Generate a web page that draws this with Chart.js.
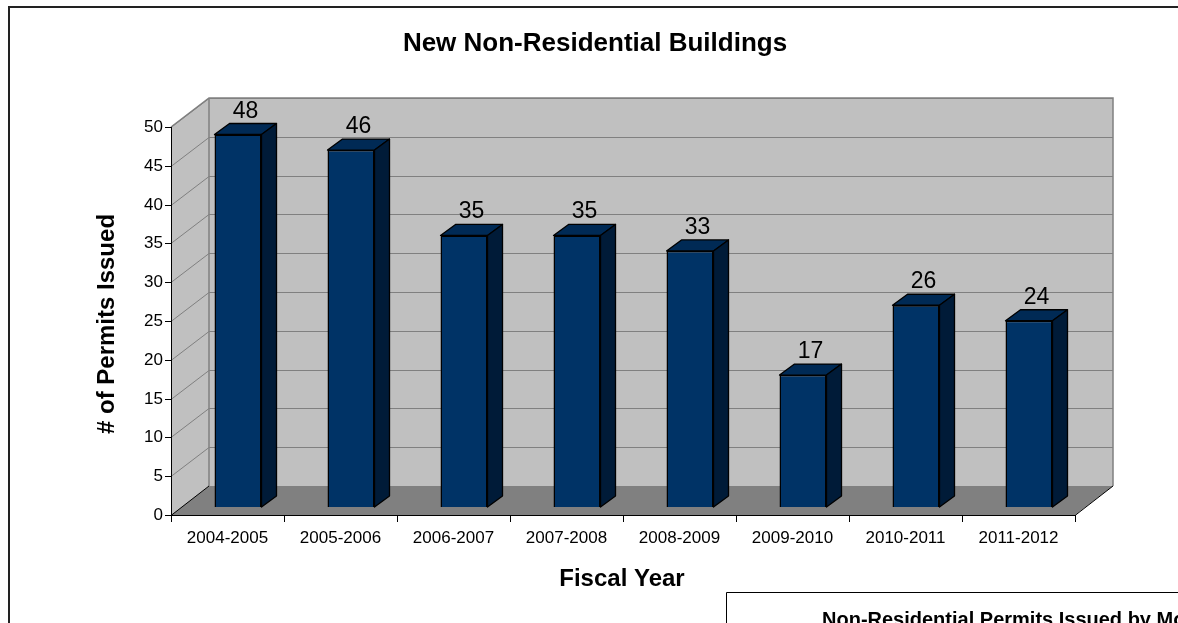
<!DOCTYPE html>
<html>
<head>
<meta charset="utf-8">
<title>New Non-Residential Buildings</title>
<script src="https://cdn.jsdelivr.net/npm/chart.js@4.4.1/dist/chart.umd.min.js"></script>
<style>
  html, body { margin: 0; padding: 0; background: #fff; }
  #wrap { width: 1178px; height: 623px; overflow: hidden; }
</style>
</head>
<body>
<div id="wrap"><canvas id="permits" width="1178" height="623"></canvas></div>
<script>
const fiscalYears = ['2004-2005', '2005-2006', '2006-2007', '2007-2008', '2008-2009', '2009-2010', '2010-2011', '2011-2012'];
const permitsIssued = [48, 46, 35, 35, 33, 17, 26, 24];
const yTicks = [0, 5, 10, 15, 20, 25, 30, 35, 40, 45, 50];

const chartTitle = 'New Non-Residential Buildings';
const yAxisTitle = '# of Permits Issued';
const xAxisTitle = 'Fiscal Year';
const nextChartTitle = 'Non-Residential Permits Issued by Month';

// offset of the back wall from the front plane
const DEPTH_X = 38, DEPTH_Y = -29;
// where the bar slab sits inside the box, and how deep it is
const BAR_SHIFT_X = 10.5, BAR_SHIFT_Y = -8;
const BAR_DEPTH_X = 15, BAR_DEPTH_Y = -11;

const FONT = "'Liberation Sans', Arial, sans-serif";

function poly(ctx, pts) {
    ctx.beginPath();
    ctx.moveTo(pts[0][0], pts[0][1]);
    for (let i = 1; i < pts.length; i++) ctx.lineTo(pts[i][0], pts[i][1]);
    ctx.closePath();
}

function line(ctx, x1, y1, x2, y2) {
    ctx.beginPath();
    ctx.moveTo(x1, y1);
    ctx.lineTo(x2, y2);
    ctx.stroke();
}

const box3d = {
    id: 'box3d',
    beforeDraw(chart) {
        const ctx = chart.ctx;
        ctx.save();
        ctx.fillStyle = '#fff';
        ctx.fillRect(0, 0, chart.width, chart.height);

        // outer chart frame (runs off the right and bottom)
        ctx.strokeStyle = '#222';
        ctx.lineWidth = 2;
        ctx.beginPath();
        ctx.moveTo(9, chart.height + 2);
        ctx.lineTo(9, 7);
        ctx.lineTo(chart.width + 2, 7);
        ctx.stroke();

        // the next chart's frame peeking in at the bottom
        ctx.strokeStyle = '#000';
        ctx.lineWidth = 1;
        ctx.beginPath();
        ctx.moveTo(726.5, chart.height + 2);
        ctx.lineTo(726.5, 592.5);
        ctx.lineTo(chart.width + 2, 592.5);
        ctx.stroke();
        ctx.fillStyle = '#000';
        ctx.font = 'bold 20px ' + FONT;
        ctx.textAlign = 'left';
        ctx.textBaseline = 'alphabetic';
        ctx.fillText(nextChartTitle, 822, 626);

        ctx.font = 'bold 26px ' + FONT;
        ctx.textAlign = 'center';
        ctx.textBaseline = 'middle';
        ctx.fillText(chartTitle, 595, 44);
        ctx.restore();
    },
    beforeDatasetsDraw(chart) {
        const { ctx, chartArea: a, scales: { x, y } } = chart;
        const L = a.left, R = a.right, T = a.top, B = a.bottom;
        ctx.save();

        // side wall, back wall, floor
        ctx.fillStyle = '#c0c0c0';
        poly(ctx, [[L, T], [L + DEPTH_X, T + DEPTH_Y], [L + DEPTH_X, B + DEPTH_Y], [L, B]]);
        ctx.fill();
        ctx.fillRect(L + DEPTH_X, T + DEPTH_Y, R - L, B - T);
        ctx.fillStyle = '#808080';
        poly(ctx, [[L, B], [R, B], [R + DEPTH_X, B + DEPTH_Y], [L + DEPTH_X, B + DEPTH_Y]]);
        ctx.fill();

        // gridlines wrap from the side wall onto the back wall
        ctx.strokeStyle = '#808080';
        ctx.lineWidth = 1;
        yTicks.forEach(v => {
            if (v === 0) return;
            const py = Math.round(y.getPixelForValue(v)) + 0.5;
            ctx.beginPath();
            ctx.moveTo(L, py);
            ctx.lineTo(L + DEPTH_X, py + DEPTH_Y);
            ctx.lineTo(R + DEPTH_X, py + DEPTH_Y);
            ctx.stroke();
        });

        // wall edges
        ctx.lineWidth = 1.5;
        ctx.beginPath();
        ctx.moveTo(L, T);
        ctx.lineTo(L + DEPTH_X, T + DEPTH_Y);
        ctx.lineTo(R + DEPTH_X, T + DEPTH_Y);
        ctx.lineTo(R + DEPTH_X, B + DEPTH_Y);
        ctx.stroke();
        line(ctx, L + DEPTH_X, T + DEPTH_Y, L + DEPTH_X, B + DEPTH_Y);

        // axes
        ctx.strokeStyle = '#000';
        ctx.lineWidth = 1;
        line(ctx, L + 0.5, T, L + 0.5, B);
        line(ctx, L, B + 0.5, R, B + 0.5);
        line(ctx, R, B + 0.5, R + DEPTH_X, B + DEPTH_Y);
        line(ctx, L, B + 0.5, L + DEPTH_X, B + DEPTH_Y);

        ctx.fillStyle = '#000';
        ctx.font = '17px ' + FONT;
        ctx.textAlign = 'right';
        ctx.textBaseline = 'middle';
        yTicks.forEach(v => {
            const py = Math.round(y.getPixelForValue(v)) + 0.5;
            line(ctx, L - 6, py, L, py);
            ctx.fillText(String(v), L - 8, py);
        });

        const half = (x.getPixelForValue(1) - x.getPixelForValue(0)) / 2;
        ctx.textAlign = 'center';
        fiscalYears.forEach((lab, i) => {
            const cx = x.getPixelForValue(i);
            ctx.fillText(lab, cx, 538);
            const tx = Math.round(cx - half) + 0.5;
            line(ctx, tx, B, tx, B + 7);
        });
        const lastTick = Math.round(x.getPixelForValue(fiscalYears.length - 1) + half) + 0.5;
        line(ctx, lastTick, B, lastTick, B + 7);

        // axis titles
        ctx.font = 'bold 24px ' + FONT;
        ctx.fillText(xAxisTitle, 622, 579);
        ctx.save();
        ctx.translate(107, 324);
        ctx.rotate(-Math.PI / 2);
        ctx.fillText(yAxisTitle, 0, 0);
        ctx.restore();

        ctx.restore();

        // bar fronts are drawn by Chart.js, pushed back into the box
        ctx.save();
        ctx.translate(BAR_SHIFT_X, BAR_SHIFT_Y);
    },
    afterDatasetsDraw(chart) {
        const ctx = chart.ctx;
        ctx.restore();
        ctx.save();
        const meta = chart.getDatasetMeta(0);
        ctx.strokeStyle = '#000';
        ctx.lineWidth = 1.3;
        ctx.lineJoin = 'round';
        meta.data.forEach((bar, i) => {
            const xl = bar.x - bar.width / 2 + BAR_SHIFT_X;
            const xr = bar.x + bar.width / 2 + BAR_SHIFT_X;
            const yt = bar.y + BAR_SHIFT_Y;
            const yb = bar.base + BAR_SHIFT_Y;
            // top face
            ctx.fillStyle = '#002a55';
            poly(ctx, [[xl, yt], [xr, yt], [xr + BAR_DEPTH_X, yt + BAR_DEPTH_Y], [xl + BAR_DEPTH_X, yt + BAR_DEPTH_Y]]);
            ctx.fill();
            ctx.stroke();
            // side face
            ctx.fillStyle = '#001b38';
            poly(ctx, [[xr, yt], [xr + BAR_DEPTH_X, yt + BAR_DEPTH_Y], [xr + BAR_DEPTH_X, yb + BAR_DEPTH_Y], [xr, yb]]);
            ctx.fill();
            ctx.stroke();
            // value label above the bar
            ctx.fillStyle = '#000';
            ctx.font = '23px ' + FONT;
            ctx.textAlign = 'center';
            ctx.textBaseline = 'alphabetic';
            ctx.fillText(String(permitsIssued[i]), bar.x + BAR_SHIFT_X + BAR_DEPTH_X / 2, yt + BAR_DEPTH_Y - 6);
        });
        ctx.restore();
    }
};

new Chart(document.getElementById('permits'), {
    type: 'bar',
    data: {
        labels: fiscalYears,
        datasets: [{
            label: 'Permits Issued',
            data: permitsIssued,
            backgroundColor: '#003366',
            borderColor: '#000',
            borderWidth: 1.5,
            categoryPercentage: 1,
            barPercentage: 0.416,
            clip: false
        }]
    },
    options: {
        responsive: false,
        animation: false,
        layout: { padding: { left: 171, right: 103, top: 127, bottom: 108 } },
        scales: {
            x: { display: false },
            y: { display: false, min: 0, max: 50, ticks: { stepSize: 5 } }
        },
        plugins: {
            legend: { display: false },
            tooltip: { enabled: false },
            title: { display: false }
        }
    },
    plugins: [box3d]
});
</script>
</body>
</html>
